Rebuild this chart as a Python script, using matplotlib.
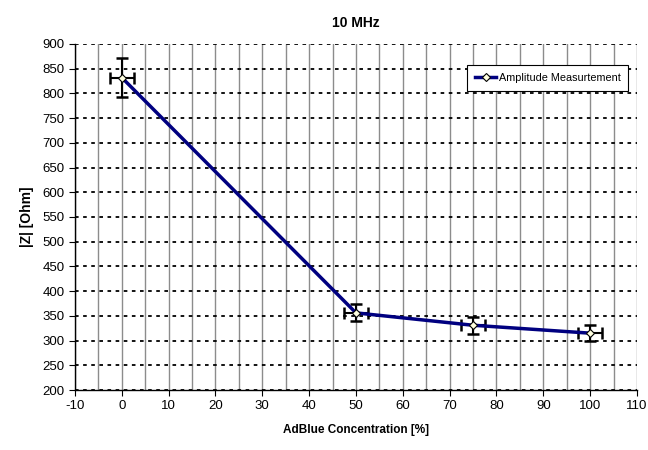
import numpy as np
import matplotlib.pyplot as plt
from matplotlib.ticker import MultipleLocator

plt.rcParams['font.family'] = ['Liberation Sans', 'DejaVu Sans']
plt.rcParams['axes.unicode_minus'] = False

## Measured data
concentration = [0, 50, 75, 100]
impedance = [832, 356, 331, 315]
impedance_err = [40, 17, 17, 16]
concentration_err = [2.5, 2.5, 2.5, 2.5]

fig = plt.figure(figsize=(6.48, 4.5), dpi=100)
ax = fig.add_axes([0.1157, 0.1333, 0.8673, 0.769])

## Grid: grey solid verticals every 5, dotted black horizontals every 50
ax.xaxis.set_major_locator(MultipleLocator(10))
ax.xaxis.set_minor_locator(MultipleLocator(5))
ax.yaxis.set_major_locator(MultipleLocator(50))
ax.grid(True, axis='x', which='both', color='#8c8c8c', linestyle='-', linewidth=1.0)
ax.grid(True, axis='y', which='major', color='black', linestyle=(0, (2, 2.5)), linewidth=1.3)
ax.tick_params(axis='x', which='minor', length=0)

ax.errorbar(concentration, impedance, yerr=impedance_err, xerr=concentration_err,
            fmt='none', ecolor='black', elinewidth=1.5, capsize=4.5, capthick=1.8, zorder=3)
ax.plot(concentration, impedance, color='#000080', linewidth=2.5, marker='D',
        markersize=4.5, markerfacecolor='#FFFFE0', markeredgecolor='black',
        markeredgewidth=0.8, label='Amplitude Measurtement', zorder=4)

ax.set_xlim(-10, 110)
ax.set_ylim(200, 900)

for side in ['top', 'right']:
    ax.spines[side].set_visible(False)
ax.spines['left'].set_linewidth(1.0)
ax.spines['bottom'].set_linewidth(1.0)
ax.tick_params(axis='both', which='major', direction='out', length=4, labelsize=9.5)

ax.set_title('10 MHz', fontsize=10, fontweight='bold', pad=12)
ax.set_xlabel('AdBlue Concentration [%]', fontsize=8.5, fontweight='bold', labelpad=8)
ax.set_ylabel('|Z| [Ohm]', fontsize=10, fontweight='bold', labelpad=6)

leg = ax.legend(loc='upper right', bbox_to_anchor=(0.984, 0.938), fontsize=7.8,
                fancybox=False, framealpha=1, edgecolor='black', handlelength=2.0,
                borderpad=0.7, handletextpad=0.2, borderaxespad=0)
leg.get_frame().set_linewidth(0.8)

plt.savefig('out.png', dpi=100)
